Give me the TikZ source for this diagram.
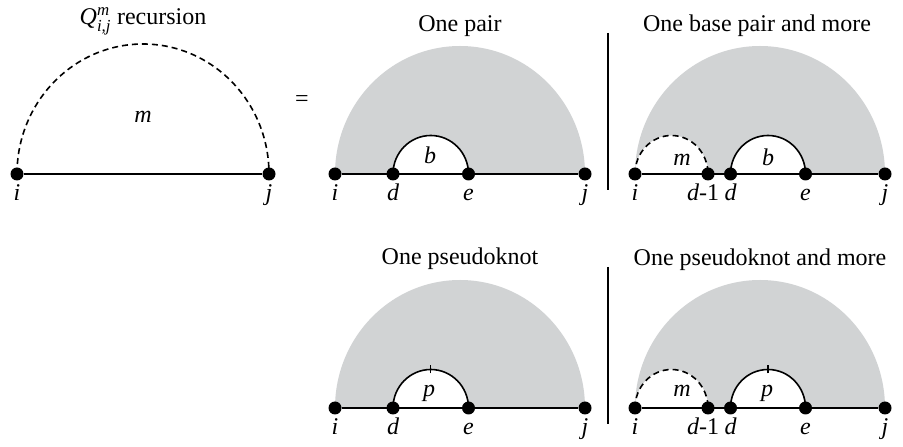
\documentclass[tikz,border=0pt]{standalone}
\usepackage{amsmath}
\usepackage{fontspec}
\setmainfont{Liberation Serif}
\usetikzlibrary{positioning,backgrounds}
\definecolor{archgrey}{RGB}{209,211,212}

\begin{document}
\begin{tikzpicture}[x=1pt, y=1pt,
  every node/.style={font=\fontsize{24}{28}\selectfont, anchor=base},
  dot/.style={circle, fill=black, inner sep=0pt, minimum size=13pt, anchor=center},
  lbl/.style={inner sep=0pt, font=\fontsize{24}{28}\selectfont\itshape},
  backbone/.style={line width=1.3pt},
  hairpin/.style={line width=1.6pt},
  dashedarc/.style={hairpin, dash pattern=on 6pt off 4pt},
  sep/.style={line width=1.6pt}
]
\useasboundingbox (0,0) rectangle (903,447);

% left: the recursion itself
\node[dot] (i0) at (17,273) {};
\node[dot] (j0) at (269,273) {};
\node[lbl] (li0) at (17,246) {i};
\node[lbl] (lj0) at (269,246) {j};
\draw[backbone] (i0) -- (j0);
\draw[dashedarc] (i0.center) arc[start angle=180, end angle=0, x radius=126, y radius=130];
\node (t0) at (143,422) {$\textit{Q}^{\textit{m}}_{\textit{i,j}}$ recursion};
\node[lbl] (m0) at (143,324) {m};
\node (eq) at (302,340) {=};

% one pair
\foreach \n/\x/\t in {i1/335/i, d1/393/d, e1/468.5/e, j1/585/j} {
  \node[dot] (\n) at (\x,273) {};
  \node[lbl] (l\n) at (\x,246) {\t};
}
\begin{scope}[on background layer]
  \fill[archgrey] (i1.center) arc[start angle=180, end angle=0, x radius=125, y radius=128] -- cycle;
  \fill[white] (d1.center) arc[start angle=180, end angle=0, x radius=37.75, y radius=38.5] -- cycle;
\end{scope}
\draw[backbone] (i1) -- (j1);
\draw[hairpin] (d1.center) arc[start angle=180, end angle=0, x radius=37.75, y radius=38.5];
\node[lbl] (b1) at (430,283) {b};
\node (t1) at (460,415) {One pair};

% one base pair and more
\foreach \n/\x/\t in {i2/635/i, d2/730.5/d, e2/805.5/e, j2/885/j} {
  \node[dot] (\n) at (\x,273) {};
  \node[lbl] (l\n) at (\x,246) {\t};
}
\node[dot] (dm2) at (708,273) {};
\node[lbl] (ldm2) at (703,246) {d\upshape-1};
\begin{scope}[on background layer]
  \fill[archgrey] (i2.center) arc[start angle=180, end angle=0, x radius=125, y radius=128] -- cycle;
  \fill[white] (i2.center) arc[start angle=180, end angle=0, x radius=36.5, y radius=38.5] -- cycle;
  \fill[white] (d2.center) arc[start angle=180, end angle=0, x radius=37.5, y radius=38.5] -- cycle;
\end{scope}
\draw[backbone] (i2) -- (j2);
\draw[dashedarc] (i2.center) arc[start angle=180, end angle=0, x radius=36.5, y radius=38.5];
\draw[hairpin] (d2.center) arc[start angle=180, end angle=0, x radius=37.5, y radius=38.5];
\node[lbl] (m2) at (682,281) {m};
\node[lbl] (b2) at (768,281) {b};
\node (t2) at (757,415) {One base pair and more};
\draw[sep] (608,414) -- (608,257);

% one pseudoknot
\foreach \n/\x/\t in {i3/335/i, d3/393/d, e3/468.5/e, j3/585/j} {
  \node[dot] (\n) at (\x,39) {};
  \node[lbl] (l\n) at (\x,12) {\t};
}
\begin{scope}[on background layer]
  \fill[archgrey] (i3.center) arc[start angle=180, end angle=0, x radius=125, y radius=128] -- cycle;
  \fill[white] (d3.center) arc[start angle=180, end angle=0, x radius=37.75, y radius=38.5] -- cycle;
\end{scope}
\draw[backbone] (i3) -- (j3);
\draw[hairpin] (d3.center) arc[start angle=180, end angle=0, x radius=37.75, y radius=38.5];
\draw[backbone] (d3.center) ++(37.75,34.5) -- ++(0,8);
\node[lbl] (p3) at (429,50) {p};
\node (t3) at (460,182) {One pseudoknot};

% one pseudoknot and more
\foreach \n/\x/\t in {i4/635/i, d4/730.5/d, e4/805.5/e, j4/885/j} {
  \node[dot] (\n) at (\x,39) {};
  \node[lbl] (l\n) at (\x,12) {\t};
}
\node[dot] (dm4) at (708,39) {};
\node[lbl] (ldm4) at (703,12) {d\upshape-1};
\begin{scope}[on background layer]
  \fill[archgrey] (i4.center) arc[start angle=180, end angle=0, x radius=125, y radius=128] -- cycle;
  \fill[white] (i4.center) arc[start angle=180, end angle=0, x radius=36.5, y radius=38.5] -- cycle;
  \fill[white] (d4.center) arc[start angle=180, end angle=0, x radius=37.5, y radius=38.5] -- cycle;
\end{scope}
\draw[backbone] (i4) -- (j4);
\draw[dashedarc] (i4.center) arc[start angle=180, end angle=0, x radius=36.5, y radius=38.5];
\draw[hairpin] (d4.center) arc[start angle=180, end angle=0, x radius=37.5, y radius=38.5];
\draw[backbone] (d4.center) ++(37.5,34.5) -- ++(0,8);
\node[lbl] (m4) at (682,50) {m};
\node[lbl] (p4) at (767,50) {p};
\node (t4) at (760,181) {One pseudoknot and more};
\draw[sep] (608,180) -- (608,23);
\end{tikzpicture}
\end{document}
